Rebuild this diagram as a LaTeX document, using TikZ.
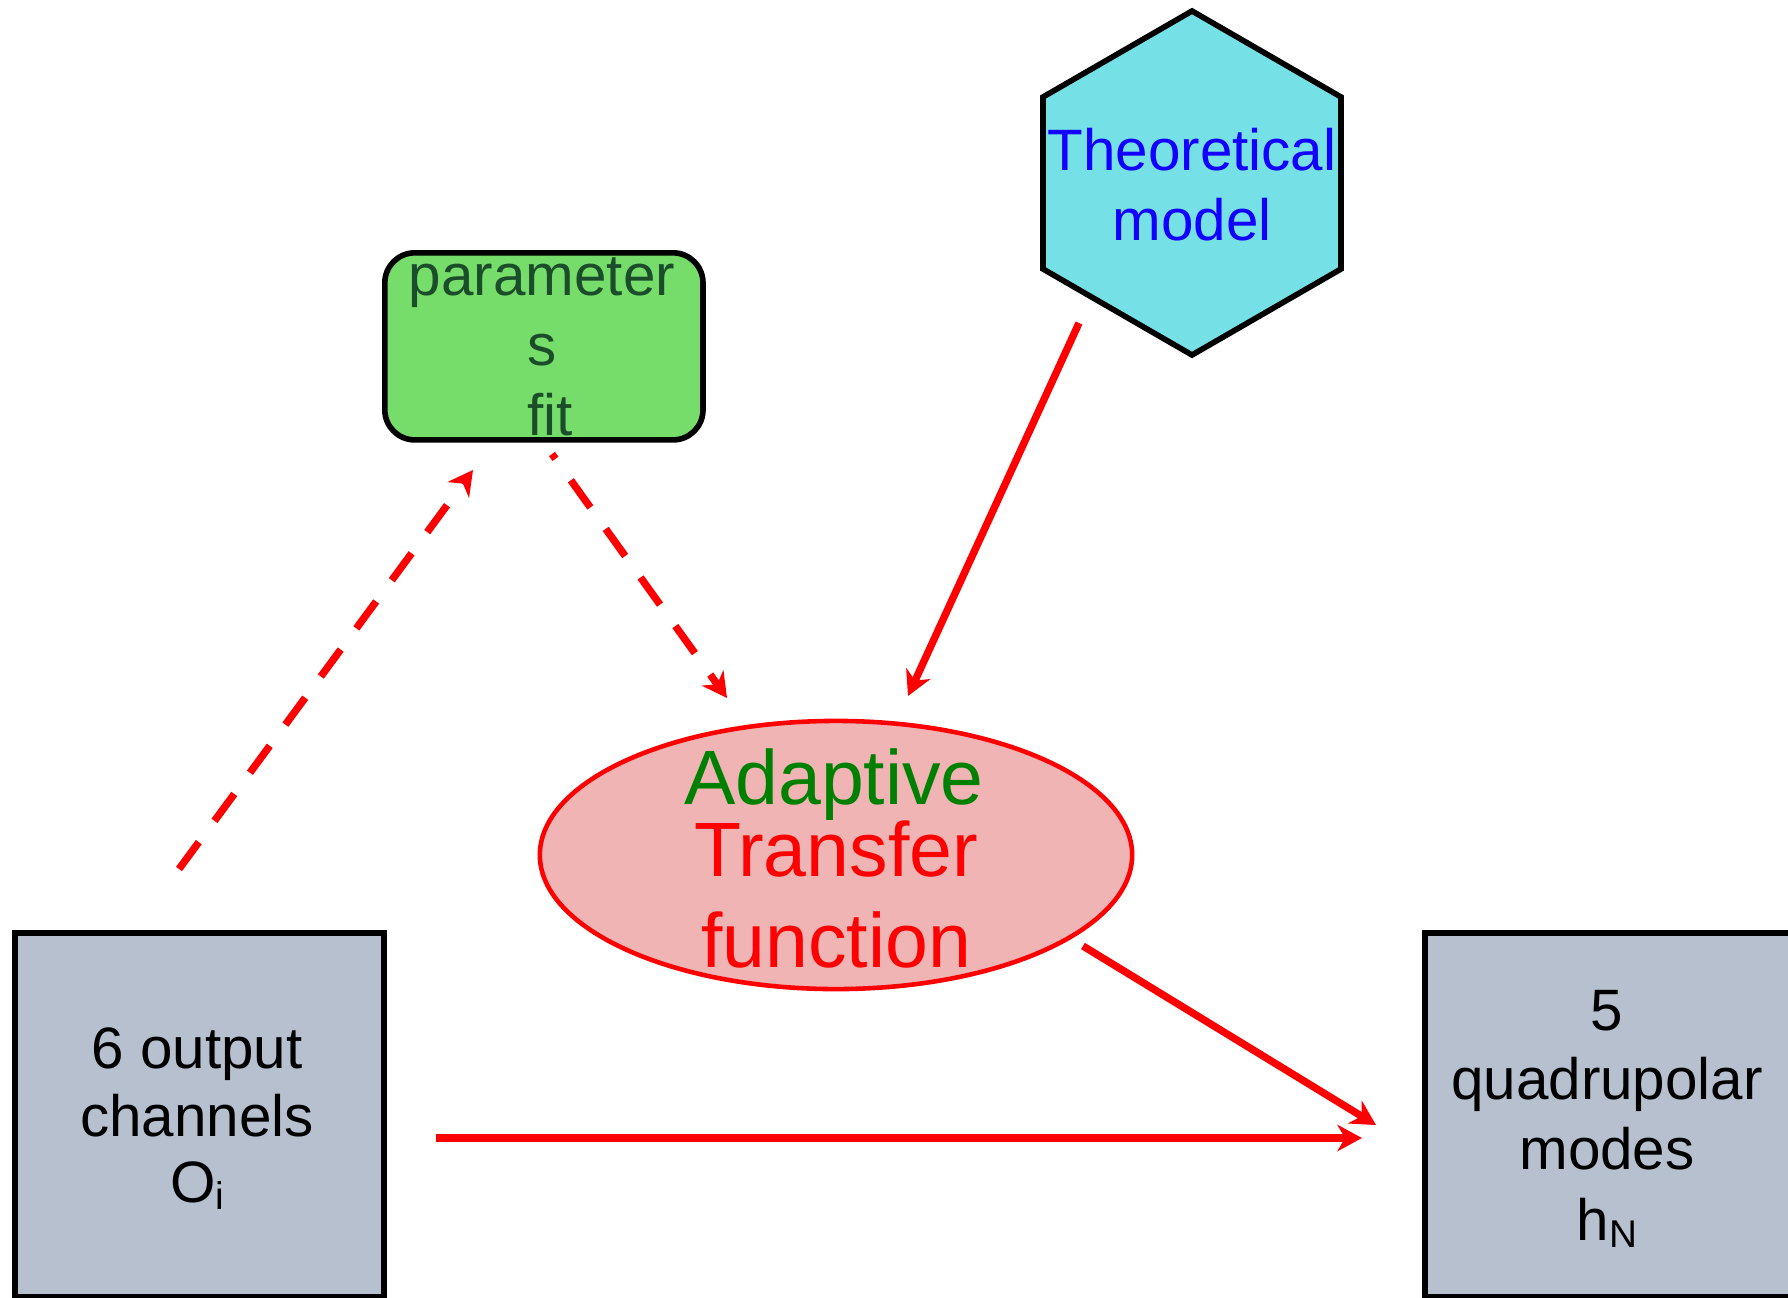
\documentclass[tikz,border=0pt]{standalone}
\usepackage{fontspec}
\setmainfont{Liberation Sans}
\usetikzlibrary{arrows.meta,shapes.geometric}
\definecolor{boxgray}{RGB}{182,192,206}
\definecolor{parfill}{RGB}{119,221,106}
\definecolor{partext}{RGB}{27,77,43}
\definecolor{hexfill}{RGB}{117,224,229}
\definecolor{hextext}{RGB}{20,0,255}
\definecolor{ellfill}{RGB}{240,180,180}
\definecolor{adgreen}{RGB}{0,128,0}
\begin{document}
\begin{tikzpicture}[x=0.01cm,y=-0.01cm,
  box/.style={draw=black,line width=1.6pt,fill=boxgray,inner sep=0pt,anchor=north west},
  txt/.style={anchor=base,inner sep=0pt,font=\fontsize{16.6}{20}\selectfont},
  bigtxt/.style={anchor=base,inner sep=0pt,font=\fontsize{21.9}{26}\selectfont},
  conn/.style={draw=red,line width=2.1pt,-{Stealth[length=7pt,width=7.5pt,inset=2.2pt]}},
  dashconn/.style={conn,dash pattern=on 9.5pt off 7.5pt}]
\useasboundingbox (0,0) rectangle (1788,1297);

% boxes
\node[box,minimum width=3.69cm,minimum height=3.64cm] (outbox) at (12,930) {};
\node[box,minimum width=4.2cm,minimum height=3.64cm] (modebox) at (1422,930) {};
\node[box,fill=parfill,rounded corners=0.3cm,minimum width=3.18cm,minimum height=1.87cm] (parbox) at (382,250) {};
\coordinate (hexc) at (1192,183);
\draw[line width=1.6pt,fill=hexfill] (1192,11) -- (1341,97) -- (1341,269) -- (1192,355) -- (1043,269) -- (1043,97) -- cycle;
\node[ellipse,draw=red,line width=1.3pt,fill=ellfill,minimum width=5.92cm,minimum height=2.68cm,inner sep=0pt] (atf) at (836,855) {};

% texts
\node[txt] (o1) at (197,1068) {6 output};
\node[txt] (o2) at (197,1136) {channels};
\node[txt] (o3) at (197,1202) {O\raisebox{-0.12em}{\fontsize{11}{11}\selectfont i}};

\node[txt] (m1) at (1607,1030) {5};
\node[txt] (m2) at (1607,1099) {quadrupolar};
\node[txt] (m3) at (1607,1169) {modes};
\node[txt] (m4) at (1607,1240) {h\raisebox{-0.12em}{\fontsize{11}{11}\selectfont N}};

\node[txt,text=partext] (p1) at (542,295) {parameter};
\node[txt,text=partext] (p2) at (542,365) {s};
\node[txt,text=partext] (p3) at (550,435) {fit};

\node[txt,text=hextext] (h1) at (1192,171) {Theoretical};
\node[txt,text=hextext] (h2) at (1192,241) {model};

\node[bigtxt,text=adgreen] (e1) at (834,804) {Adaptive};
\node[bigtxt,text=red] (e2) at (836,876) {Transfer};
\node[bigtxt,text=red] (e3) at (836,967) {function};

% connectors
\coordinate (a1s) at (179,869);
\coordinate (a1e) at (473,470);
\coordinate (a2s) at (552,454);
\coordinate (a2e) at (727,698);
\coordinate (a3s) at (1079,323);
\coordinate (a3e) at (908,696);
\coordinate (a4s) at (1083,946);
\coordinate (a4e) at (1376,1125);
\coordinate (a5s) at (436,1138);
\coordinate (a5e) at (1362,1138);
\draw[dashconn] (a1s) -- (a1e);
\draw[dashconn,dash phase=7.8pt] (a2s) -- (a2e);
\draw[conn] (a3s) -- (a3e);
\draw[conn] (a4s) -- (a4e);
\draw[conn] (a5s) -- (a5e);
\end{tikzpicture}
\end{document}
